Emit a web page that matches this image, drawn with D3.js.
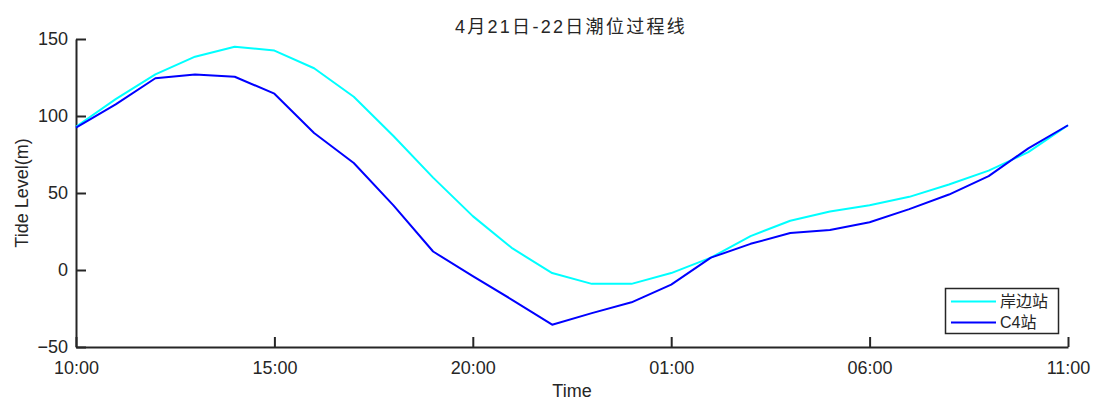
<!DOCTYPE html>
<html>
<head>
<meta charset="utf-8">
<script src="https://cdn.jsdelivr.net/npm/d3@7"></script>
<style>
  html, body { margin: 0; padding: 0; background: #fff; }
  svg { display: block; }
  text { font-family: "Liberation Sans", Arial, "Noto Sans CJK SC", sans-serif; fill: #262626; }
</style>
</head>
<body>
<svg id="chart" width="1093" height="401"></svg>
<script>
// ---- data ----
const times = ["04-21 10:00","04-21 11:00","04-21 12:00","04-21 13:00","04-21 14:00","04-21 15:00",
  "04-21 16:00","04-21 17:00","04-21 18:00","04-21 19:00","04-21 20:00","04-21 21:00","04-21 22:00",
  "04-21 23:00","04-22 00:00","04-22 01:00","04-22 02:00","04-22 03:00","04-22 04:00","04-22 05:00",
  "04-22 06:00","04-22 07:00","04-22 08:00","04-22 09:00","04-22 10:00","04-22 11:00"];
const shoreStation = [93, 111, 127, 138.5, 145, 142.5, 131, 112.5, 87, 60, 35, 14, -2, -9, -9, -2,
  8, 22, 32, 38, 42, 47.5, 55.5, 64.5, 76.5, 94];
const c4Station = [92.5, 107.5, 124.5, 127, 125.5, 114.5, 89, 69.5, 42, 12, -4, -19.5, -35.5, -28, -21, -9.5,
  8, 17, 24, 26, 31, 39.5, 49, 61, 79, 94];
const seriesNames = ["岸边站", "C4站"];
const xTickTimes = ["04-21 10:00","04-21 15:00","04-21 20:00","04-22 01:00","04-22 06:00","04-22 11:00"];
const xTickLabels = ["10:00","15:00","20:00","01:00","06:00","11:00"];
const yTicks = [-50, 0, 50, 100, 150];
const titleText = "4月21日-22日潮位过程线";
const xLabel = "Time";
const yLabel = "Tide Level(m)";

// ---- layout ----
const mLeft = 76, mRight = 1068, mTop = 39, mBottom = 347;
const parse = d3.timeParse("%Y-%m-%d %H:%M");
const toDate = s => parse("2021-" + s);
const svg = d3.select("#chart");
const axisColor = "#262626";

const x = d3.scaleTime()
  .domain([toDate(times[0]), toDate(times[times.length - 1])])
  .range([mLeft, mRight]);
const y = d3.scaleLinear().domain([-50, 150]).range([mBottom, mTop]);

// axes
const xAxis = d3.axisBottom(x)
  .tickValues(xTickTimes.map(toDate))
  .tickFormat((d, i) => xTickLabels[i])
  .tickSizeInner(-10).tickSizeOuter(0).tickPadding(14);
const gx = svg.append("g").attr("transform", `translate(0,${mBottom})`).call(xAxis);

const yAxis = d3.axisLeft(y)
  .tickValues(yTicks)
  .tickSizeInner(-10).tickSizeOuter(0).tickPadding(8);
const gy = svg.append("g").attr("transform", `translate(${mLeft},0)`).call(yAxis);

[gx, gy].forEach(g => {
  g.select(".domain").attr("stroke", axisColor).attr("stroke-width", 2);
  g.selectAll(".tick line").attr("stroke", axisColor).attr("stroke-width", 2);
  g.selectAll(".tick text").attr("font-size", 18).attr("fill", axisColor)
    .attr("font-family", "Liberation Sans, Arial, sans-serif");
});

// lines
const line = d3.line().x((d, i) => x(toDate(times[i]))).y(d => y(d));
const colors = ["#00FFFF", "#0000FF"];
[shoreStation, c4Station].forEach((s, k) => {
  svg.append("path").datum(s)
    .attr("d", line)
    .attr("fill", "none")
    .attr("stroke", colors[k])
    .attr("stroke-width", 2)
    .attr("stroke-linejoin", "round");
});

// title
svg.append("text")
  .attr("x", (mLeft + mRight) / 2 - 1).attr("y", 33)
  .attr("text-anchor", "middle")
  .attr("font-size", 18)
  .attr("letter-spacing", 2.3)
  .text(titleText);

// axis labels
svg.append("text")
  .attr("x", (mLeft + mRight) / 2).attr("y", 397)
  .attr("text-anchor", "middle").attr("font-size", 18)
  .text(xLabel);
svg.append("text")
  .attr("transform", `translate(28,${(mTop + mBottom) / 2}) rotate(-90)`)
  .attr("text-anchor", "middle").attr("font-size", 18)
  .text(yLabel);

// legend
const lgW = 113, lgH = 45;
const lgX = mRight - 10 - lgW, lgY = mBottom - 14 - lgH;
const lg = svg.append("g").attr("transform", `translate(${lgX},${lgY})`);
lg.append("rect").attr("x", 0.5).attr("y", 0.5).attr("width", lgW).attr("height", lgH)
  .attr("fill", "#fff").attr("stroke", axisColor).attr("stroke-width", 1.5);
seriesNames.forEach((name, k) => {
  const cy = 13.5 + k * 21;
  lg.append("line").attr("x1", 6).attr("x2", 51).attr("y1", cy).attr("y2", cy)
    .attr("stroke", colors[k]).attr("stroke-width", 2);
  lg.append("text").attr("x", 55).attr("y", cy).attr("dy", "0.36em")
    .attr("font-size", 16).text(name);
});
</script>
</body>
</html>
